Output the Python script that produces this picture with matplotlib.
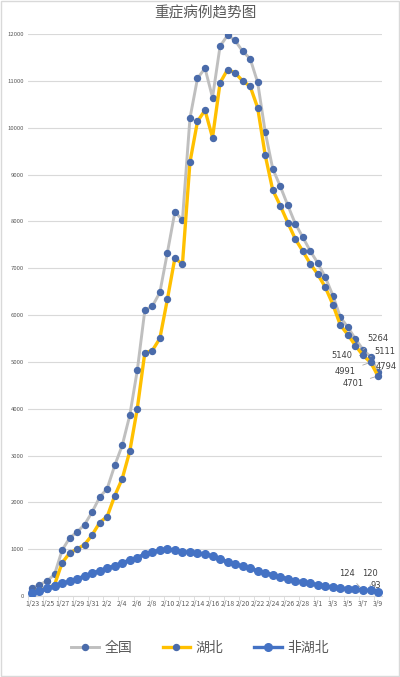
import matplotlib
matplotlib.use('Agg')
import matplotlib.pyplot as plt
from matplotlib.patches import Rectangle

plt.rcParams['font.family'] = ['Noto Sans CJK SC', 'DejaVu Sans']

# dates 1/23 - 3/9 (2020)
dates = ['1/23', '1/24', '1/25', '1/26', '1/27', '1/28', '1/29', '1/30', '1/31',
         '2/1', '2/2', '2/3', '2/4', '2/5', '2/6', '2/7', '2/8', '2/9', '2/10',
         '2/11', '2/12', '2/13', '2/14', '2/15', '2/16', '2/17', '2/18', '2/19',
         '2/20', '2/21', '2/22', '2/23', '2/24', '2/25', '2/26', '2/27', '2/28',
         '2/29', '3/1', '3/2', '3/3', '3/4', '3/5', '3/6', '3/7', '3/8', '3/9']

national = [177, 237, 324, 461, 976, 1239, 1370, 1527, 1795, 2110, 2296, 2788,
            3219, 3859, 4821, 6101, 6188, 6484, 7333, 8204, 8030, 10204, 11053,
            11272, 10644, 11741, 11977, 11864, 11633, 11477, 10968, 9915, 9126,
            8752, 8346, 7952, 7664, 7365, 7110, 6806, 6416, 5952, 5737, 5489,
            5264, 5111, 4794]

hubei = [106, 130, 160, 240, 706, 919, 1000, 1100, 1304, 1569, 1698, 2140,
         2507, 3090, 4003, 5197, 5242, 5502, 6337, 7222, 7084, 9264, 10135,
         10375, 9790, 10958, 11244, 11174, 11000, 10886, 10427, 9417, 8671,
         8339, 7976, 7625, 7365, 7095, 6868, 6592, 6224, 5781, 5580, 5347,
         5140, 4991, 4701]

non_hubei = [71, 107, 164, 221, 270, 320, 370, 427, 491, 541, 598, 648, 712,
             769, 818, 904, 946, 982, 996, 982, 946, 940, 918, 897, 854, 783,
             733, 690, 633, 591, 541, 498, 455, 413, 370, 327, 299, 270, 242,
             214, 192, 171, 157, 142, 124, 120, 93]

x = list(range(len(dates)))

fig = plt.figure(figsize=(4, 6.77), dpi=100)
ax = fig.add_axes([0.0705, 0.1196, 0.884, 0.830])

ax.plot(x, national, color='#BFBFBF', lw=2.1, marker='o', ms=4.3,
        mfc='#4A6BAA', mec='#4A6BAA', label='全国', zorder=3)
ax.plot(x, hubei, color='#FFC000', lw=2.4, marker='o', ms=4.3,
        mfc='#4A6BAA', mec='#4A6BAA', label='湖北', zorder=4)
ax.plot(x, non_hubei, color='#4472C4', lw=2.4, marker='o', ms=5.5,
        mfc='#4472C4', mec='#4472C4', label='非湖北', zorder=5)

ax.set_xlim(-0.5, len(dates) - 0.5)
ax.set_ylim(0, 12000)
ax.set_yticks(range(0, 12001, 1000))
ax.tick_params(axis='y', length=0, labelsize=4.3, labelcolor='#595959', pad=3)
ax.set_xticks(x[::2])
ax.set_xticklabels(dates[::2])
ax.tick_params(axis='x', length=0, labelsize=4.9, labelcolor='#595959', pad=3)
ax.set_xticks([i - 0.5 for i in range(0, len(dates) + 1, 2)], minor=True)
ax.tick_params(axis='x', which='minor', length=3, color='#D9D9D9')

ax.grid(axis='y', color='#D9D9D9', lw=0.8)
ax.set_axisbelow(True)
for s in ['top', 'right', 'left']:
    ax.spines[s].set_visible(False)
ax.spines['bottom'].set_color('#D9D9D9')

ax.set_title('重症病例趋势图', fontsize=10.5, color='#595959', pad=12)

# data labels for the last three days
lab = dict(textcoords='offset pixels', fontsize=6, color='#404040',
           ha='center', va='center', family='DejaVu Sans',
           arrowprops=dict(arrowstyle='-', color='#A6A6A6', lw=0.6,
                           shrinkA=3, shrinkB=2))
offsets_nat = [(15, 11), (14, 5), (8, 5)]
offsets_hb = [(-21, 0), (-25, -9), (-25, -8)]
offsets_nh = [(-16, 17), (-1, 17), (-2, 6)]
for k, i in enumerate(range(len(dates) - 3, len(dates))):
    ax.annotate(str(national[i]), (i, national[i]), xytext=offsets_nat[k], **lab)
    ax.annotate(str(hubei[i]), (i, hubei[i]), xytext=offsets_hb[k], **lab)
    ax.annotate(str(non_hubei[i]), (i, non_hubei[i]), xytext=offsets_nh[k], **lab)

leg = fig.legend(loc='center', bbox_to_anchor=(0.5, 0.043), ncol=3, frameon=False,
                 fontsize=10, handlelength=2.0, columnspacing=2.2, handletextpad=0.4)
for t in leg.get_texts():
    t.set_color('#595959')

fig.patches.append(Rectangle((0.002, 0.002), 0.995, 0.996, transform=fig.transFigure,
                             fill=False, edgecolor='#D9D9D9', lw=1))

fig.savefig('out.png', dpi=100)
